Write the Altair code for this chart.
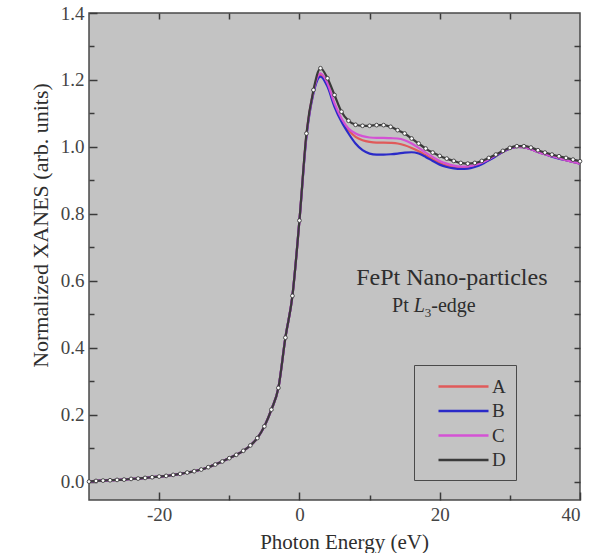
import altair as alt
import pandas as pd

# ---------------- data ----------------
series_names = ["A", "B", "C", "D"]
series_colors = ["#e05a5a", "#2a2ac8", "#d452d4", "#3a3a3a"]

# shared pre-edge / edge region (all four spectra coincide), E = -30 .. 0 eV
energy_pre = list(range(-30, 1))
edge_common = [0.000, 0.002, 0.003, 0.004, 0.005, 0.006, 0.008, 0.009, 0.011, 0.013,
               0.015, 0.017, 0.020, 0.023, 0.027, 0.031, 0.036, 0.043, 0.051, 0.060,
               0.070, 0.080, 0.092, 0.108, 0.130, 0.165, 0.215, 0.280, 0.430, 0.555,
               0.780]

# white line / post-edge region, E = 1 .. 40 eV
energy_post = list(range(1, 41))
A_post = [1.035, 1.165, 1.215, 1.185, 1.125, 1.080, 1.050, 1.030, 1.020, 1.015,
          1.013, 1.013, 1.012, 1.010, 1.005, 0.997, 0.987, 0.975, 0.963, 0.952,
          0.944, 0.939, 0.937, 0.938, 0.943, 0.951, 0.961, 0.973, 0.985, 0.995,
          1.000, 0.999, 0.993, 0.985, 0.978, 0.972, 0.966, 0.960, 0.955, 0.950]
B_post = [1.030, 1.160, 1.210, 1.180, 1.120, 1.075, 1.040, 1.010, 0.990, 0.980,
          0.977, 0.977, 0.978, 0.980, 0.983, 0.984, 0.980, 0.970, 0.958, 0.947,
          0.940, 0.936, 0.934, 0.935, 0.940, 0.948, 0.960, 0.972, 0.985, 0.995,
          1.000, 0.999, 0.993, 0.985, 0.978, 0.971, 0.965, 0.960, 0.955, 0.950]
C_post = [1.035, 1.165, 1.220, 1.190, 1.130, 1.085, 1.055, 1.040, 1.032, 1.028,
          1.027, 1.027, 1.026, 1.025, 1.020, 1.010, 0.997, 0.983, 0.970, 0.958,
          0.950, 0.944, 0.941, 0.942, 0.946, 0.953, 0.963, 0.975, 0.987, 0.996,
          1.000, 0.999, 0.993, 0.985, 0.978, 0.972, 0.966, 0.960, 0.955, 0.950]
D_post = [1.040, 1.170, 1.235, 1.205, 1.155, 1.105, 1.078, 1.066, 1.063, 1.063,
          1.065, 1.065, 1.060, 1.050, 1.040, 1.025, 1.010, 0.995, 0.983, 0.973,
          0.965, 0.958, 0.952, 0.950, 0.952, 0.958, 0.967, 0.977, 0.988, 0.997,
          1.002, 1.002, 0.998, 0.990, 0.983, 0.977, 0.972, 0.967, 0.962, 0.957]

x_major = [-20, 0, 20, 40]
x_minor = [-10, 10, 30]
x_all = [-20, -10, 0, 10, 20, 30]
y_major = [0.0, 0.2, 0.4, 0.6, 0.8, 1.0, 1.2, 1.4]
y_minor = [0.1, 0.3, 0.5, 0.7, 0.9, 1.1, 1.3]
y_all = [0.0, 0.1, 0.2, 0.3, 0.4, 0.5, 0.6, 0.7, 0.8, 0.9, 1.0, 1.1, 1.2, 1.3]

# annotation text (position in data units)
ann_line1 = {"t": "FePt Nano-particles", "E": 8.1, "v": 0.587}
ann_pt = {"t": "Pt", "E": 13.2, "v": 0.506}
ann_L = {"t": "L", "E": 16.3, "v": 0.506}
ann_sub = {"t": "3", "E": 17.85, "v": 0.492}
ann_edge = {"t": "-edge", "E": 18.8, "v": 0.506}

# ---------------- build table ----------------
rows = []
for s, post in zip(series_names, [A_post, B_post, C_post, D_post]):
    for e, v in zip(energy_pre, edge_common):
        rows.append({"E": e, "v": v, "s": s})
    for e, v in zip(energy_post, post):
        rows.append({"E": e, "v": v, "s": s})
df = pd.DataFrame(rows)

FONT = "Liberation Serif"
TXT = "#2e2e2e"
BG = "#c3c3c3"

xs = alt.Scale(domain=[-30, 40], nice=False, zero=False)
ys = alt.Scale(domain=[-0.055, 1.4], nice=False, zero=False)
cs = alt.Scale(domain=series_names, range=series_colors)

tick_col = "#3a3a3a"

legend_def = alt.Legend(
    orient="none", legendX=325, legendY=352, title=None,
    fillColor=BG, strokeColor="#4a4a4a", padding=10,
    symbolType="M-2.5,0H2.5", symbolSize=400, symbolStrokeWidth=2.5,
    symbolOffset=28, labelOffset=17, rowPadding=2.5,
    labelExpr="datum.label + '\u00a0\u00a0'",
    labelFont=FONT, labelFontSize=19, labelColor=TXT)

# main lines with labelled axes (major ticks inside)
lines = alt.Chart(df).mark_line(strokeWidth=2.2, interpolate="monotone").encode(
    x=alt.X("E:Q", scale=xs, axis=alt.Axis(
        orient="bottom", values=x_major, tickSize=8, offset=-8, domain=False, grid=False,
        tickColor=tick_col, tickWidth=1.5, labelPadding=5,
        labelExpr="toString(datum.value)", labelFont=FONT, labelFontSize=19,
        labelColor="#444", title="Photon Energy  (eV)", titleFont=FONT,
        titleFontSize=21, titleFontWeight="normal", titleColor=TXT, titlePadding=7,
        titleX=255)),
    y=alt.Y("v:Q", scale=ys, axis=alt.Axis(
        orient="left", values=y_major, tickSize=8, offset=-8, domain=False, grid=False,
        tickColor=tick_col, tickWidth=1.5, labelPadding=5, format=".1f",
        labelFont=FONT, labelFontSize=19, labelColor="#444",
        title="Normalized XANES  (arb. units)", titleFont=FONT, titleFontSize=22,
        titleFontWeight="normal", titleColor=TXT, titlePadding=8, titleY=212)),
    color=alt.Color("s:N", scale=cs, legend=legend_def),
    detail="s:N",
)

# open circle markers of D
pts = alt.Chart(df).transform_filter("datum.s == 'D'").mark_point(
    filled=False, fill="white", stroke="#3a3a3a", size=14, strokeWidth=0.9, opacity=1
).encode(
    x=alt.X("E:Q", scale=xs, axis=None),
    y=alt.Y("v:Q", scale=ys, axis=None),
)


def tick_layer(xo, xv, xsz, yo, yv, ysz):
    return alt.Chart(df).transform_filter("datum.E == -30").mark_point(size=0).encode(
        x=alt.X("E:Q", scale=xs, axis=alt.Axis(
            orient=xo, values=xv, tickSize=xsz, offset=-xsz, domain=False, grid=False,
            labels=False, title=None, tickColor=tick_col, tickWidth=1.5)),
        y=alt.Y("v:Q", scale=ys, axis=alt.Axis(
            orient=yo, values=yv, tickSize=ysz, offset=-ysz, domain=False, grid=False,
            labels=False, title=None, tickColor=tick_col, tickWidth=1.5)),
    )


minor = tick_layer("bottom", x_minor, 5, "left", y_minor, 5)
mirror = tick_layer("top", x_all, 6, "right", y_all, 6)


def text_layer(d, size, style="normal"):
    return alt.Chart(pd.DataFrame([d])).mark_text(
        align="left", baseline="alphabetic", font=FONT, fontSize=size,
        fontStyle=style, color=TXT
    ).encode(
        x=alt.X("E:Q", scale=xs, axis=None),
        y=alt.Y("v:Q", scale=ys, axis=None),
        text="t:N",
    )


texts = (text_layer(ann_line1, 24) + text_layer(ann_pt, 20) +
         text_layer(ann_L, 20, "italic") + text_layer(ann_sub, 13) +
         text_layer(ann_edge, 20))

chart = alt.layer(lines, pts, minor, mirror, texts).resolve_axis(
    x="independent", y="independent"
).properties(
    width=491, height=487,
    padding={"left": 89, "top": 13, "right": 12, "bottom": 53},
    autosize=alt.AutoSizeParams(type="none"),
    background="white",
).configure_view(fill=BG, stroke="#4a4a4a", strokeWidth=1.5)

chart.save("out.html", embed_options={"renderer": "svg", "actions": False})
